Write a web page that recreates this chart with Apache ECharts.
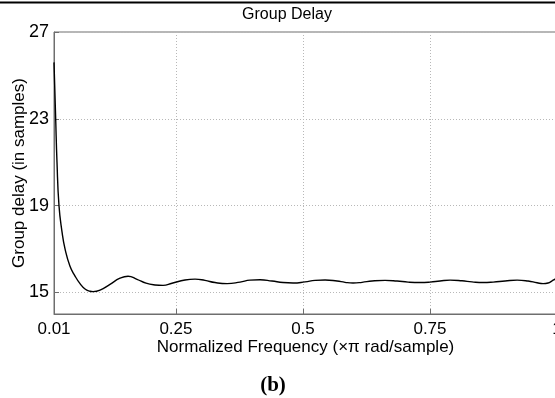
<!DOCTYPE html>
<html>
<head>
<meta charset="utf-8">
<script src="https://cdn.jsdelivr.net/npm/echarts@6/dist/echarts.min.js"></script>
<style>
  html, body { margin: 0; padding: 0; background: #fff; }
  #chart { width: 555px; height: 398px; }
</style>
</head>
<body>
<div id="chart"></div>
<script>
// normalized frequency (x pi rad/sample) and group delay (samples)
const freq = [
  0.0100, 0.0133, 0.0159, 0.0198, 0.0257, 0.0317, 0.0415, 0.0514, 0.0612, 0.0711,
  0.0809, 0.0868, 0.1006, 0.1202, 0.1399, 0.1557, 0.1734, 0.1911, 0.2088, 0.2246,
  0.2423, 0.2679, 0.2876, 0.3072, 0.3269, 0.3506, 0.3761, 0.3958, 0.4155, 0.4391,
  0.4608, 0.4805, 0.5041, 0.5238, 0.5435, 0.5671, 0.5829, 0.5986, 0.6163, 0.6360,
  0.6616, 0.6852, 0.7069, 0.7305, 0.7502, 0.7698, 0.7895, 0.8131, 0.8328, 0.8545,
  0.8742, 0.8978, 0.9215, 0.9431, 0.9608, 0.9726, 0.9825, 0.9904, 0.9963, 1.0000
];
const delay = [
  25.6, 23.0, 21.0, 19.0, 17.8, 17.0, 16.2, 15.75, 15.4, 15.15,
  15.05, 15.03, 15.1, 15.37, 15.65, 15.74, 15.6, 15.42, 15.34, 15.32,
  15.42, 15.57, 15.61, 15.55, 15.45, 15.40, 15.47, 15.56, 15.58, 15.52,
  15.45, 15.43, 15.48, 15.55, 15.57, 15.52, 15.46, 15.43, 15.46, 15.52,
  15.55, 15.52, 15.47, 15.45, 15.47, 15.52, 15.56, 15.53, 15.48, 15.45,
  15.47, 15.52, 15.56, 15.52, 15.44, 15.40, 15.43, 15.53, 15.61, 15.68
];
const xTicks = [0.01, 0.25, 0.5, 0.75, 1];
const yTicks = [15, 19, 23, 27];

const font = "'Liberation Sans', Arial, sans-serif";
const axisGray = '#6e6e6e';

const chart = echarts.init(document.getElementById('chart'), null, { renderer: 'canvas' });

chart.setOption({
  animation: false,
  grid: {
    left: 54, top: 32, right: -2, bottom: 84,
    outerBoundsMode: 'none',
    containLabel: false,
    show: true, borderColor: axisGray, borderWidth: 1
  },
  graphic: [
    { type: 'line', shape: { x1: 0, y1: 2.5, x2: 555, y2: 2.5 }, style: { stroke: '#000', lineWidth: 2 } },
    { type: 'text', x: 287, y: 15, style: { text: 'Group Delay', font: '16px ' + font, fill: '#000', textAlign: 'center', textVerticalAlign: 'middle' } },
    { type: 'text', x: 273, y: 386, style: { text: '(b)', font: 'bold 21px "Liberation Serif", "Times New Roman", serif', fill: '#000', textAlign: 'center', textVerticalAlign: 'middle' } }
  ],
  xAxis: {
    type: 'value',
    min: 0.01,
    max: 1,
    name: 'Normalized Frequency (\u00d7\u03c0 rad/sample)',
    nameLocation: 'middle',
    nameGap: 25,
    nameMoveOverlap: false,
    nameTextStyle: { color: '#000', fontSize: 17, fontFamily: font },
    axisLine: { lineStyle: { color: axisGray, width: 1 } },
    axisTick: { show: true, inside: true, length: 5, customValues: xTicks, lineStyle: { color: axisGray } },
    axisLabel: {
      customValues: xTicks, color: '#000', fontSize: 17, fontFamily: font, margin: 7,
      formatter: v => String(v)
    },
    splitLine: { show: true, lineStyle: { color: '#b8b8b8', type: [1, 2], width: 1 } }
  },
  yAxis: {
    type: 'value',
    min: 14,
    max: 27,
    name: 'Group delay (in samples)',
    nameLocation: 'middle',
    nameGap: 26,
    nameMoveOverlap: false,
    nameTextStyle: { color: '#000', fontSize: 17, fontFamily: font },
    axisLine: { show: true, lineStyle: { color: axisGray, width: 1 } },
    axisTick: { show: true, inside: true, length: 5, customValues: yTicks, lineStyle: { color: axisGray } },
    axisLabel: { customValues: yTicks, color: '#000', fontSize: 18, fontFamily: font, margin: 5 },
    splitLine: { show: true, lineStyle: { color: '#b8b8b8', type: [1, 2], width: 1 } }
  },
  series: [{
    type: 'line',
    data: freq.map((f, i) => [f, delay[i]]),
    showSymbol: false,
    smooth: 0.5,
    lineStyle: { color: '#000', width: 1.4 },
    silent: true
  }]
});
</script>
</body>
</html>
